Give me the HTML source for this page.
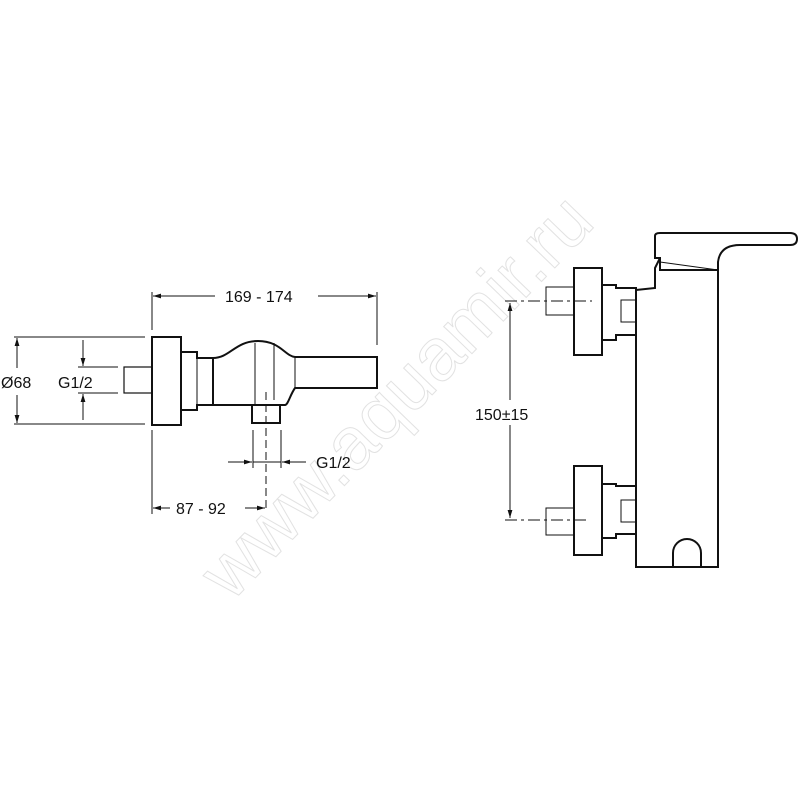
<!DOCTYPE html>
<html><head><style>body{margin:0;background:#fff}svg{display:block}text{font-family:"Liberation Sans",sans-serif;font-size:16px;fill:#111}</style></head><body>
<svg width="800" height="800" viewBox="0 0 800 800">
<defs><marker id="a" viewBox="0 0 10 10" refX="10" refY="5" markerUnits="userSpaceOnUse" markerWidth="13" markerHeight="8" orient="auto-start-reverse"><path d="M0,2 L10,5 L0,8z" fill="#111"/></marker></defs>
<text x="400" y="400" text-anchor="middle" dominant-baseline="middle" transform="rotate(-46 400 400)" style="font-size:74px;fill:none;stroke:#e2e2e2;stroke-width:1">www.aquamir.ru</text>
<g stroke="#111" fill="none" stroke-width="1">
<line x1="152" y1="292" x2="152" y2="330"/><line x1="377" y1="292" x2="377" y2="345"/>
<line x1="153" y1="296" x2="215" y2="296" marker-start="url(#a)"/><line x1="318" y1="296" x2="376" y2="296" marker-end="url(#a)"/>
<line x1="14" y1="337" x2="145" y2="337"/><line x1="14" y1="424" x2="145" y2="424"/>
<line x1="17" y1="338" x2="17" y2="368" marker-start="url(#a)"/><line x1="17" y1="395" x2="17" y2="423" marker-end="url(#a)"/>
<line x1="78" y1="367" x2="118" y2="367"/><line x1="78" y1="393" x2="118" y2="393"/>
<line x1="83" y1="340" x2="83" y2="366" marker-end="url(#a)"/><line x1="83" y1="420" x2="83" y2="394" marker-end="url(#a)"/>
<line x1="253" y1="430" x2="253" y2="468"/><line x1="281" y1="430" x2="281" y2="468"/>
<line x1="228" y1="462" x2="252" y2="462" marker-end="url(#a)"/><line x1="306" y1="462" x2="282" y2="462" marker-end="url(#a)"/>
<line x1="253" y1="462" x2="281" y2="462"/>
<line x1="152" y1="430" x2="152" y2="514"/>
<line x1="153" y1="508" x2="170" y2="508" marker-start="url(#a)"/><line x1="245" y1="508" x2="265" y2="508" marker-end="url(#a)"/>
<line x1="266" y1="392" x2="266" y2="512" stroke-dasharray="8,4"/>
</g>
<g stroke="#111" fill="none" stroke-width="2">
<rect x="124" y="367" width="28" height="26" stroke-width="1.2"/>
<rect x="152" y="337" width="29" height="88"/>
<path d="M181,352 H197 V358 H213 V405 H197 V410 H181"/>
<path d="M213,358 C230,358 235,341 258,341 C280,341 285,356 295,357 H377 V388 H295 C290,395 288,405 285,405 H213"/>
<path d="M252,405 V423 H280 V405"/>
</g>
<g stroke="#111" stroke-width="1"><line x1="197" y1="358" x2="197" y2="405"/><line x1="255" y1="343" x2="255" y2="405"/><line x1="274" y1="343" x2="274" y2="400"/><line x1="295" y1="357" x2="295" y2="388"/></g>
<text x="1" y="388">Ø68</text><text x="58" y="388">G1/2</text>
<text x="225" y="302">169 - 174</text><text x="316" y="468">G1/2</text><text x="176" y="514">87 - 92</text>
<g stroke="#111" fill="none" stroke-width="2">
<path d="M636,290 V567 H718 V270"/>
<path d="M655,258 V236 Q655,233 660,233 H790 Q797,233 797,239 Q797,245 790,245 H740 Q720,245 718,262 V270 H660 L660,258 Z"/>
<path d="M636,290 L655,288 L655,268 L660,258"/>
<rect x="574" y="268" width="28" height="87"/>
<path d="M602,285 H616 V288 H636 V335 H616 V340 H602"/>
<rect x="574" y="466" width="28" height="89"/>
<path d="M602,484 H616 V486 H636 V534 H616 V538 H602"/>
<path d="M673,567 V553 A14,14 0 0 1 701,553 V567"/>
</g>
<g stroke="#111" stroke-width="1" fill="none">
<rect x="546" y="287" width="28" height="28"/><rect x="546" y="508" width="28" height="27"/>
<rect x="621" y="300" width="15" height="22"/><rect x="621" y="500" width="15" height="22"/>
<line x1="660" y1="262" x2="718" y2="270"/>
<line x1="505" y1="301" x2="592" y2="301" stroke-dasharray="12,4,3,4"/>
<line x1="505" y1="520" x2="590" y2="520" stroke-dasharray="12,4,3,4"/>
<line x1="510" y1="303" x2="510" y2="400" marker-start="url(#a)"/><line x1="510" y1="425" x2="510" y2="518" marker-end="url(#a)"/>
</g>
<text x="475" y="420">150±15</text>
</svg>
</body></html>
